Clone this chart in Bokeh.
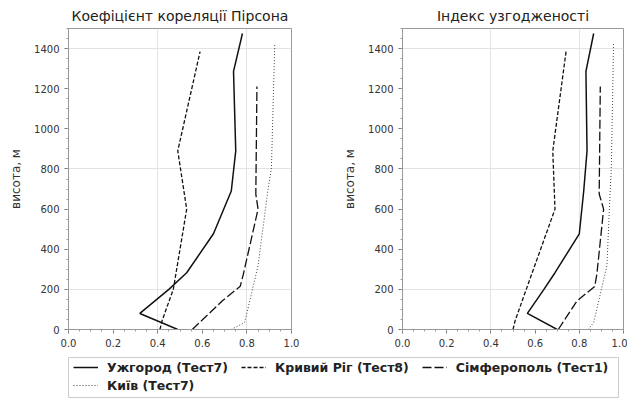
from bokeh.plotting import figure
from bokeh.layouts import column, row
from bokeh.models import Legend, LegendItem, FixedTicker, Range1d
from bokeh.embed import file_html
from bokeh.resources import INLINE

FONT = "DejaVu Sans"

titles = ["Коефіцієнт кореляції Пірсона", "Індекс узгодженості"]
y_label = "висота, м"
names = ["Ужгород (Тест7)", "Кривий Ріг (Тест8)", "Сімферополь (Тест1)", "Київ (Тест7)"]

# Ужгород
uzh_h = [0, 80, 200, 283, 477, 690, 890, 1286, 1475]
uzh_pearson = [0.49, 0.32, 0.45, 0.53, 0.65, 0.73, 0.75, 0.74, 0.78]
uzh_index = [0.70, 0.565, 0.64, 0.69, 0.80, 0.82, 0.835, 0.83, 0.865]

# Кривий Ріг
kr_h = [0, 45, 200, 600, 890, 1385]
kr_pearson = [0.41, 0.42, 0.47, 0.53, 0.49, 0.59]
kr_index = [0.50, 0.51, 0.56, 0.69, 0.68, 0.74]

# Сімферополь
sim_h = [0, 143, 215, 280, 600, 675, 1211]
sim_pearson = [0.555, 0.69, 0.77, 0.785, 0.85, 0.84, 0.845]
sim_index = [0.705, 0.79, 0.87, 0.88, 0.91, 0.89, 0.895]

# Київ
kyiv_h = [0, 35, 318, 700, 805, 1425]
kyiv_pearson = [0.73, 0.79, 0.85, 0.895, 0.91, 0.925]
kyiv_index = [0.84, 0.865, 0.925, 0.94, 0.945, 0.955]

x_ticks = [0.0, 0.2, 0.4, 0.6, 0.8, 1.0]
y_ticks = [0, 200, 400, 600, 800, 1000, 1200, 1400]
x_grid = [0.0, 0.4, 0.8]
y_grid = [200, 800, 1400]

styles = [
    dict(line_color="#111111", line_width=1.5, line_dash="solid"),
    dict(line_color="#111111", line_width=1.3, line_dash="4 2"),
    dict(line_color="#111111", line_width=1.3, line_dash="9 3"),
    dict(line_color="#444444", line_width=1.0, line_dash="1 2"),
]


def make_panel(title, series, width, left, right):
    p = figure(width=width, height=357, x_range=Range1d(0, 1), y_range=Range1d(0, 1500),
               output_backend="svg", toolbar_location=None,
               min_border_left=left, min_border_right=right,
               min_border_top=27, min_border_bottom=28)
    p.title.text = title
    p.title.align = "center"
    p.title.text_font = FONT
    p.title.text_font_size = "14px"
    p.title.text_font_style = "normal"
    p.title.text_color = "#222222"
    p.outline_line_color = "#999999"
    for ax in (p.xaxis[0], p.yaxis[0]):
        ax.major_label_text_font = FONT
        ax.major_label_text_font_size = "10px"
        ax.major_label_text_color = "#333333"
        ax.axis_line_color = "#999999"
        ax.major_tick_line_color = "#777777"
        ax.minor_tick_line_color = "#999999"
        ax.major_tick_out = 4
        ax.major_tick_in = 0
        ax.minor_tick_out = 2
        ax.minor_tick_in = 0
    p.xaxis[0].ticker = FixedTicker(ticks=x_ticks, minor_ticks=[i * 0.05 for i in range(21)])
    p.yaxis[0].ticker = FixedTicker(ticks=y_ticks, minor_ticks=list(range(0, 1501, 50)))
    p.xaxis[0].major_label_overrides = {t: f"{t:.1f}" for t in x_ticks}
    p.yaxis[0].axis_label = y_label
    p.yaxis[0].axis_label_text_font = FONT
    p.yaxis[0].axis_label_text_font_size = "12px"
    p.yaxis[0].axis_label_text_font_style = "normal"
    p.yaxis[0].axis_label_text_color = "#333333"
    p.yaxis[0].axis_label_standoff = 8
    p.xgrid[0].ticker = FixedTicker(ticks=x_grid)
    p.ygrid[0].ticker = FixedTicker(ticks=y_grid)
    p.xgrid.grid_line_color = "#e3e3e3"
    p.ygrid.grid_line_color = "#e3e3e3"
    for (h, v), st in zip(series, styles):
        p.line(x=v, y=h, **st)
    return p


p1 = make_panel(titles[0], [(uzh_h, uzh_pearson), (kr_h, kr_pearson), (sim_h, sim_pearson),
                            (kyiv_h, kyiv_pearson)], 310, 68, 19)
p2 = make_panel(titles[1], [(uzh_h, uzh_index), (kr_h, kr_index), (sim_h, sim_index),
                            (kyiv_h, kyiv_index)], 317, 92, 4)

# legend panel: its frame outline is the legend box
pl = figure(width=627, height=41, x_range=Range1d(0, 1), y_range=Range1d(0, 1),
            output_backend="svg", toolbar_location=None,
            min_border_left=68, min_border_right=9, min_border_top=0, min_border_bottom=1)
pl.axis.visible = False
pl.grid.visible = False
pl.outline_line_color = "#cccccc"
renderers = [pl.line(x=[5, 6], y=[5, 6], **st) for st in styles]

common = dict(orientation="horizontal", label_text_font=FONT, label_text_font_size="12.5px",
              label_text_font_style="bold", label_text_color="#222222",
              glyph_width=25, glyph_height=16, label_height=16, label_standoff=9,
              spacing=13, padding=0, margin=0, border_line_color=None,
              background_fill_alpha=0)
leg1 = Legend(items=[LegendItem(label=n, renderers=[r]) for n, r in zip(names[:3], renderers[:3])],
              location=(5, 22), **common)
leg2 = Legend(items=[LegendItem(label=names[3], renderers=[renderers[3]])],
              location=(5, 4), **common)
pl.add_layout(leg1, "center")
pl.add_layout(leg2, "center")

layout = column(row(p1, p2), pl)
open("out.html", "w").write(file_html(layout, INLINE))
